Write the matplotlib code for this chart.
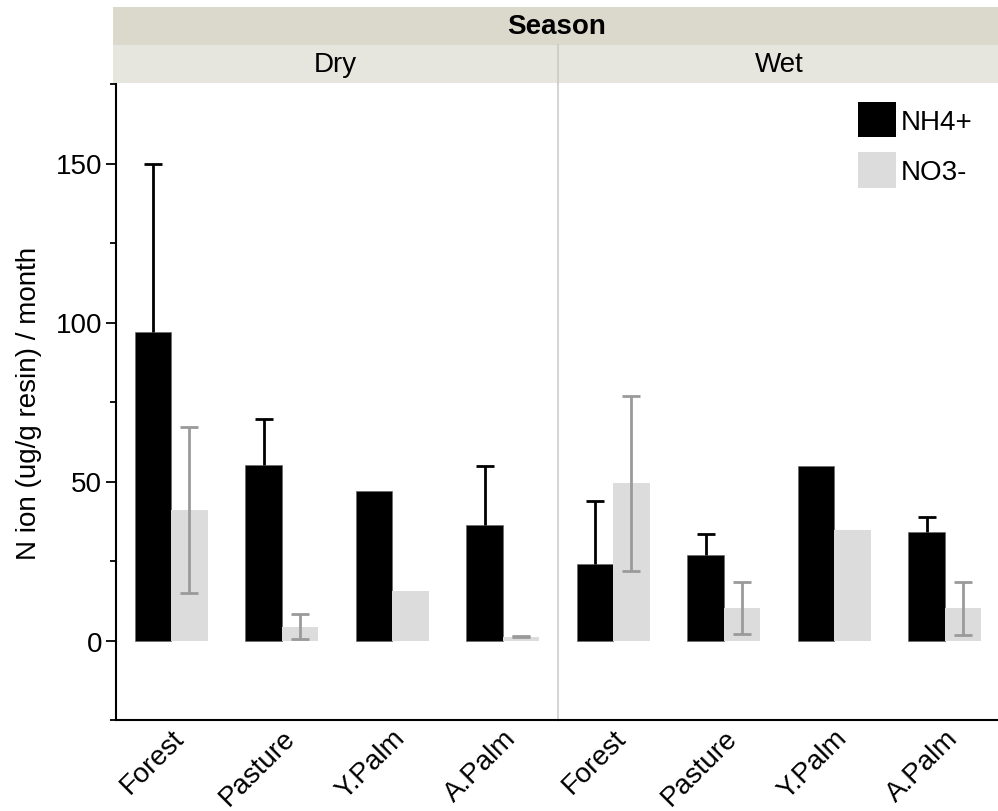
import matplotlib
matplotlib.use("Agg")
import matplotlib.pyplot as plt
import numpy as np
from matplotlib.patches import Patch

plt.rcParams["font.family"] = ["Liberation Sans", "DejaVu Sans"]

categories = ["Forest", "Pasture", "Y.Palm", "A.Palm"]
seasons = ["Dry", "Wet"]

# mean values and standard errors (NaN = no error bar)
nh4 = {
    "Dry": [97.0, 55.3, 47.0, 36.3],
    "Wet": [23.9, 26.8, 54.9, 34.1],
}
nh4_err = {
    "Dry": [53.0, 14.3, np.nan, 18.7],
    "Wet": [20.0, 6.6, np.nan, 4.8],
}
no3 = {
    "Dry": [41.0, 4.3, 15.7, 1.2],
    "Wet": [49.4, 10.3, 34.6, 10.1],
}
no3_err = {
    "Dry": [26.2, 3.9, np.nan, 0.2],
    "Wet": [27.4, 8.2, np.nan, 8.3],
}

NH4_COLOR = "black"
NO3_COLOR = "#dcdcdc"
NO3_ERR = "#9a9a9a"
BAND_TOP = "#dbd9cb"
BAND_SUB = "#e7e6de"
DIVIDER = "#d6d6d6"
FS = 20

W, H = 998, 812
fig = plt.figure(figsize=(W / 100, H / 100), dpi=100)

x_left, x_mid, x_right = 116, 558, 1000
y_bot, y_top = 721, 85


def fx(px):
    return px / W


def fy(py):
    return 1 - py / H


axes = []
for i, season in enumerate(seasons):
    l = x_left if i == 0 else x_mid
    r = x_mid if i == 0 else x_right
    ax = fig.add_axes([fx(l), fy(y_bot), fx(r - l), fy(y_top) - fy(y_bot)])
    axes.append(ax)
    x = np.arange(len(categories))
    w = 0.33
    ax.bar(x - w / 2, nh4[season], width=w, color=NH4_COLOR,
           edgecolor="#6a6a6a", linewidth=0.5, zorder=2)
    ax.bar(x + w / 2, no3[season], width=w, color=NO3_COLOR, zorder=2)

    # NH4+: upper error bar only
    err = np.array(nh4_err[season])
    m = ~np.isnan(err)
    _, caps, _ = ax.errorbar((x - w / 2)[m], np.array(nh4[season])[m],
                             yerr=[np.zeros(m.sum()), err[m]], fmt="none",
                             ecolor="black", elinewidth=2, capsize=6.5,
                             capthick=2, zorder=3)
    caps[0].set_visible(False)
    # NO3-: symmetric error bar
    err = np.array(no3_err[season])
    m = ~np.isnan(err)
    ax.errorbar((x + w / 2)[m], np.array(no3[season])[m], yerr=err[m],
                fmt="none", ecolor=NO3_ERR, elinewidth=2, capsize=6.5,
                capthick=2, zorder=3)

    ax.set_xlim(-0.5, 3.5)
    ax.set_ylim(-25, 175)
    ax.set_xticks(x)
    ax.set_xticklabels(categories, rotation=45, ha="right",
                       rotation_mode="anchor", fontsize=FS)
    ax.tick_params(axis="x", length=0, pad=3)
    ax.spines["top"].set_visible(False)
    ax.spines["right"].set_visible(False)
    ax.spines["bottom"].set_linewidth(1.5)
    if i == 0:
        ax.spines["left"].set_linewidth(1.5)
        ax.set_yticks([0, 50, 100, 150])
        ax.set_yticks([-25, 25, 75, 125, 175], minor=True)
        ax.tick_params(axis="y", which="major", length=7, width=1.3,
                       labelsize=FS, pad=3)
        ax.tick_params(axis="y", which="minor", length=4, width=1.3)
        ax.set_ylabel("N ion (ug/g resin) / month", fontsize=FS, labelpad=10)
    else:
        ax.spines["left"].set_color(DIVIDER)
        ax.spines["left"].set_linewidth(1.5)
        ax.set_yticks([])

# header bands
band = fig.add_axes([fx(113), fy(46), fx(x_right - 113), fy(8) - fy(46)])
band.set_facecolor(BAND_TOP)
band.set_xticks([])
band.set_yticks([])
for s in band.spines.values():
    s.set_visible(False)
band.text(0.5, 0.5, "Season", ha="center", va="center", fontsize=FS,
          fontweight="bold", transform=band.transAxes)

for i, season in enumerate(seasons):
    l = 113 if i == 0 else x_mid
    r = x_mid if i == 0 else x_right
    sb = fig.add_axes([fx(l), fy(84), fx(r - l), fy(46) - fy(84)])
    sb.set_facecolor(BAND_SUB)
    sb.set_xticks([])
    sb.set_yticks([])
    for s in sb.spines.values():
        s.set_visible(False)
    if i == 1:
        sb.spines["left"].set_visible(True)
        sb.spines["left"].set_color("#d0cfc6")
        sb.spines["left"].set_linewidth(1.5)
    sb.text(0.5, 0.5, season, ha="center", va="center", fontsize=FS,
            transform=sb.transAxes)

# legend
handles = [Patch(facecolor=NH4_COLOR, label="NH4+"),
           Patch(facecolor=NO3_COLOR, label="NO3-")]
axes[1].legend(handles=handles, loc="upper right", frameon=False,
               fontsize=FS, handlelength=1.35, handleheight=1.6,
               handletextpad=0.2, labelspacing=0.54, borderaxespad=0.1,
               bbox_to_anchor=(0.97, 0.994))

fig.savefig("out.png", dpi=100)
